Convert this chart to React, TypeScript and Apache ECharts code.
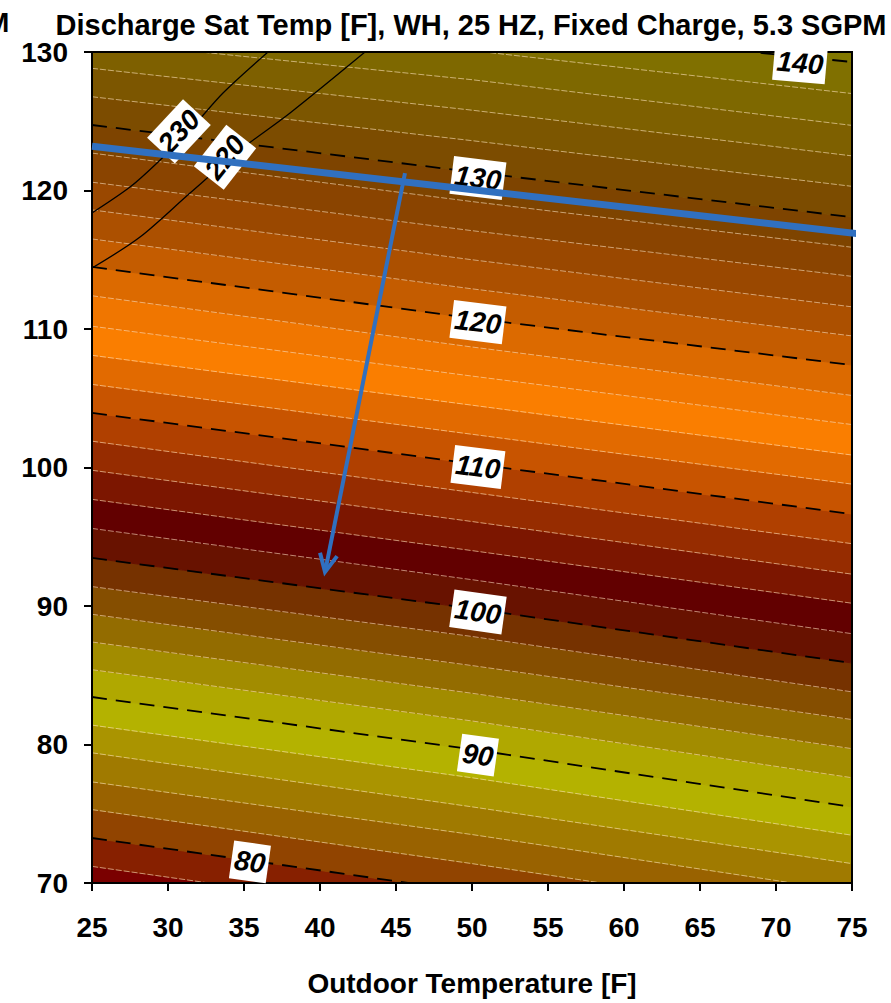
import React, { useEffect, useRef } from "react";
import * as echarts from "echarts";

// ---- data ----
const xTicks = [25, 30, 35, 40, 45, 50, 55, 60, 65, 70, 75];
const yTicks = [70, 80, 90, 100, 110, 120, 130];
const sampleX = [25, 50, 75];

// contour levels (deg F) and the water temperature where each crosses x = 25, 50, 75
const levels = [76, 78, 80, 82, 84, 86, 88, 90, 92, 94, 96, 98, 100, 102, 104, 106, 108, 110, 112, 114, 116, 118, 120, 122, 124, 126, 128, 130, 132, 134, 136, 138, 140, 142];
const yAt25 = [69.1, 71.2, 73.25, 75.3, 77.3, 79.4, 81.4, 83.43, 85.4, 87.4, 89.4, 91.4, 93.47, 95.6, 97.7, 99.8, 101.9, 103.94, 106.0, 108.1, 110.2, 112.4, 114.48, 116.5, 118.6, 120.6, 122.7, 124.73, 126.77, 128.82, 130.8, 132.8, 134.8, 136.8];
const yAt50 = [65.2, 67.3, 69.35, 71.4, 73.5, 75.5, 77.6, 79.65, 81.7, 83.7, 85.7, 87.8, 89.82, 91.9, 94.0, 96.1, 98.2, 100.28, 102.4, 104.5, 106.6, 108.7, 110.78, 112.9, 115.0, 117.1, 119.2, 121.34, 123.6, 125.8, 128.0, 130.1, 132.0, 134.0];
const yAt75 = [61.3, 63.4, 65.3, 67.3, 69.35, 71.4, 73.45, 75.49, 77.6, 79.7, 81.8, 83.8, 85.88, 88.0, 90.2, 92.3, 94.5, 96.64, 98.8, 100.9, 103.1, 105.2, 107.4, 109.5, 111.6, 113.8, 115.9, 118.08, 120.3, 122.5, 124.7, 127.0, 129.28, 131.5];

// fill colour of each band between consecutive levels
const bandColors = [
  "#7a0000", "#872000", "#914400", "#996200", "#a07a00", "#aa9400", "#b4b200", "#b0a800",
  "#a28c00", "#936c00", "#854e00", "#763200", "#681200", "#620000", "#7c1600", "#962c00",
  "#b04000", "#c85400", "#e26a00", "#fa7e00", "#f07600", "#dc6a00", "#c45c00", "#ac5000",
  "#9a4800", "#8a4400", "#7e4400", "#7c4c00", "#7c5600", "#7e6000", "#7e6800", "#807000",
  "#827800",
];

// second variable contours (solid black)
const curve230X = [25, 27.5, 29.28, 31.45, 33.62, 36.58];
const curve230Y = [118.38, 120.25, 121.99, 124.37, 127.04, 130];
const curve220X = [25, 28.16, 31.45, 34.74, 38.03, 42.96];
const curve220Y = [114.4, 116.64, 119.82, 122.92, 125.6, 130];

// contour labels
const labelTexts = ["140", "130", "120", "110", "100", "90", "80", "230", "220"];
const labelX = [71.58, 50.39, 50.39, 50.39, 50.39, 50.39, 35.39, 30.72, 33.75];
const labelY = [129.2, 120.9, 110.5, 100.04, 89.57, 79.24, 71.52, 124.27, 122.4];
const labelRot = [-5, -7, -7, -7, -8, -8, -8, 47, 52];

// blue operating line and arrow
const blueX = [25, 75.6];
const blueY = [123.2, 116.85];
const arrowFrom = [45.59, 121.26];
const arrowTo = [40.33, 92.45];

const FONT = "'Liberation Sans', Arial, sans-serif";
const BLUE = "#3070c0";

export default function App() {
  const ref = useRef<HTMLDivElement>(null);

  useEffect(() => {
    if (!ref.current) return;
    const chart = echarts.init(ref.current, null, { renderer: "svg" });

    const bandData = bandColors.map((_, i) => [50, (yAt50[i] + yAt50[i + 1]) / 2, i]);
    const lineData = levels.map((l, i) => [50, yAt50[i], l]);
    const cols = [yAt25, yAt50, yAt75];

    const option: any = {
      animation: false,
      grid: { left: 92, right: 39, top: 52, bottom: 120 },
      xAxis: {
        type: "value",
        min: xTicks[0],
        max: xTicks[xTicks.length - 1],
        interval: 5,
        name: "Outdoor Temperature [F]",
        nameLocation: "middle",
        nameGap: 86,
        nameTextStyle: { fontFamily: FONT, fontWeight: "bold", fontSize: 28, color: "#000" },
        axisLine: { show: true, onZero: false, lineStyle: { color: "#000", width: 2 } },
        axisTick: { show: true, length: 8, lineStyle: { color: "#000", width: 2 } },
        axisLabel: { fontFamily: FONT, fontWeight: "bold", fontSize: 28, color: "#000", margin: 30 },
        splitLine: { show: false },
      },
      yAxis: {
        type: "value",
        min: yTicks[0],
        max: yTicks[yTicks.length - 1],
        interval: 10,
        axisLine: { show: true, onZero: false, lineStyle: { color: "#000", width: 2 } },
        axisTick: { show: true, length: 8, lineStyle: { color: "#000", width: 2 } },
        axisLabel: { fontFamily: FONT, fontWeight: "bold", fontSize: 28, color: "#000", margin: 24 },
        splitLine: { show: false },
      },
      series: [
        {
          type: "custom",
          z: 1,
          clip: true,
          silent: true,
          data: bandData,
          renderItem: (params: any, api: any) => {
            const i = params.dataIndex;
            const pts: number[][] = [];
            for (let k = 0; k < sampleX.length; k++) pts.push(api.coord([sampleX[k], cols[k][i]]));
            for (let k = sampleX.length - 1; k >= 0; k--) pts.push(api.coord([sampleX[k], cols[k][i + 1]]));
            return {
              type: "polygon",
              shape: { points: pts },
              style: { fill: bandColors[i], stroke: bandColors[i], lineWidth: 1 },
            };
          },
        },
        {
          type: "custom",
          z: 2,
          clip: true,
          silent: true,
          data: lineData,
          renderItem: (params: any, api: any) => {
            const i = params.dataIndex;
            const pts = sampleX.map((x, k) => api.coord([x, cols[k][i]]));
            const major = levels[i] % 10 === 0;
            return {
              type: "polyline",
              shape: { points: pts },
              style: major
                ? { stroke: "#000", lineWidth: 1.8, lineDash: [15, 9], fill: "none" }
                : { stroke: "rgba(255,225,190,0.6)", lineWidth: 1, lineDash: [6, 2], fill: "none" },
            };
          },
        },
        {
          type: "line",
          z: 3,
          data: curve230X.map((x, i) => [x, curve230Y[i]]),
          smooth: 0.3,
          symbol: "none",
          silent: true,
          lineStyle: { color: "#000", width: 1.3 },
        },
        {
          type: "line",
          z: 3,
          data: curve220X.map((x, i) => [x, curve220Y[i]]),
          smooth: 0.3,
          symbol: "none",
          silent: true,
          lineStyle: { color: "#000", width: 1.3 },
        },
        {
          type: "custom",
          z: 6,
          clip: false,
          silent: true,
          data: labelTexts.map((t, i) => [labelX[i], labelY[i], labelRot[i]]),
          renderItem: (params: any, api: any) => {
            const i = params.dataIndex;
            const p = api.coord([api.value(0), api.value(1)]);
            return {
              type: "text",
              x: p[0],
              y: p[1],
              rotation: (api.value(2) * Math.PI) / 180,
              style: {
                text: labelTexts[i],
                font: `italic bold 28px ${FONT}`,
                fill: "#000",
                align: "center",
                verticalAlign: "middle",
                backgroundColor: "#fff",
                padding: [6, 3, 4, 3],
              },
            };
          },
        },
        {
          type: "line",
          z: 8,
          clip: false,
          data: blueX.map((x, i) => [x, blueY[i]]),
          symbol: "none",
          silent: true,
          lineStyle: { color: BLUE, width: 7 },
        },
        {
          type: "custom",
          z: 8,
          clip: false,
          silent: true,
          data: [[arrowFrom[0], arrowFrom[1], arrowTo[0], arrowTo[1]]],
          renderItem: (params: any, api: any) => {
            const s = api.coord([api.value(0), api.value(1)]);
            const t = api.coord([api.value(2), api.value(3)]);
            const ang = Math.atan2(t[1] - s[1], t[0] - s[0]);
            const L = 20;
            const a = 0.45;
            const p1 = [t[0] - L * Math.cos(ang - a), t[1] - L * Math.sin(ang - a)];
            const p2 = [t[0] - L * Math.cos(ang + a), t[1] - L * Math.sin(ang + a)];
            return {
              type: "group",
              children: [
                { type: "line", shape: { x1: s[0], y1: s[1], x2: t[0], y2: t[1] }, style: { stroke: BLUE, lineWidth: 4 } },
                { type: "polyline", shape: { points: [p1, t, p2] }, style: { stroke: BLUE, lineWidth: 4, fill: "none" } },
              ],
            };
          },
        },
      ],
      graphic: [
        {
          type: "rect",
          z: 5,
          silent: true,
          shape: { x: 92, y: 52, width: 760, height: 831 },
          style: { fill: "none", stroke: "#000", lineWidth: 2 },
        },
        {
          type: "text",
          z: 10,
          x: 471,
          y: 25,
          style: {
            text: "Discharge Sat Temp [F], WH, 25 HZ, Fixed Charge, 5.3 SGPM",
            font: `bold 29px ${FONT}`,
            fill: "#000",
            textAlign: "center",
            textVerticalAlign: "middle",
          },
        },
        {
          type: "text",
          z: 10,
          x: -14,
          y: 22,
          style: {
            text: "M",
            font: `bold 28px ${FONT}`,
            fill: "#000",
            textAlign: "left",
            textVerticalAlign: "middle",
          },
        },
      ],
    };

    chart.setOption(option);
    return () => chart.dispose();
  }, []);

  return (
    <div
      ref={ref}
      style={{ position: "absolute", left: 0, top: 0, width: 891, height: 1003, background: "#fff" }}
    />
  );
}
